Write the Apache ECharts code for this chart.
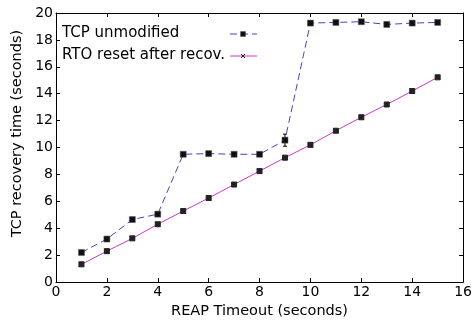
<!DOCTYPE html>
<html><head><meta charset="utf-8">
<script src="https://cdn.jsdelivr.net/npm/echarts@6/dist/echarts.min.js"></script>
<style>html,body{margin:0;padding:0;background:#fff}#c{width:475px;height:324px}</style>
</head><body><div id="c"></div>
<script>
const timeouts = [1,2,3,4,5,6,7,8,9,10,11,12,13,14,15];
const tcpUnmodified = [2.2,3.2,4.65,5.05,9.5,9.55,9.5,9.5,10.55,19.25,19.3,19.35,19.15,19.25,19.3];
const rtoReset = [1.32,2.3,3.25,4.3,5.28,6.25,7.25,8.25,9.25,10.2,11.25,12.25,13.2,14.2,15.22];
const tcpErrLow = [2.2,3.15,4.6,4.95,9.45,9.5,9.45,9.45,10.1,19.2,19.25,19.3,19.1,19.2,19.25];
const tcpErrHigh = [2.25,3.25,4.7,5.15,9.55,9.6,9.55,9.55,11.0,19.3,19.35,19.4,19.2,19.3,19.35];
const xTicks = [0,2,4,6,8,10,12,14,16];
const yTicks = [0,2,4,6,8,10,12,14,16,18,20];
const seriesNames = ['TCP unmodified','RTO reset after recov.'];

const FONT = 'DejaVu Sans';
const blue = '#4642c4';
const mag = '#c838c8';
const xMark = 'path://M0,0L10,10M10,0L0,10M0,0L10,0L10,10L0,10Z';
const chart = echarts.init(document.getElementById('c'), null, {renderer:'canvas'});
const axisCommon = {
  axisLine:{show:true,onZero:false,lineStyle:{color:'#000',width:1}},
  axisTick:{show:true,inside:true,length:4,lineStyle:{color:'#000'}},
  splitLine:{show:false}
};
function legendEntry(y, label, color, dash, markerShape){
  const items = [
    {type:'text',left:62,top:y-8,style:{text:label,font:'15px "DejaVu Sans"',fill:'#000'}},
    {type:'line',shape:{x1:230,y1:y,x2:257,y2:y},style:{stroke:color,lineWidth:1,lineDash:dash}}
  ];
  if(markerShape==='rect'){
    items.push({type:'rect',shape:{x:240.5,y:y-2.5,width:5,height:5},style:{fill:'#111',stroke:'#555',lineWidth:0.5}});
  } else {
    items.push({type:'polyline',shape:{points:[[241,y-2],[245,y+2]]},style:{stroke:'#222',lineWidth:1}});
    items.push({type:'polyline',shape:{points:[[245,y-2],[241,y+2]]},style:{stroke:'#222',lineWidth:1}});
  }
  return items;
}
chart.setOption({
  animation:false,
  textStyle:{fontFamily:FONT},
  grid:{left:56,right:10,top:13,bottom:32,containLabel:false},
  graphic:[].concat(
    legendEntry(34, seriesNames[0], blue, [7,4], 'rect'),
    legendEntry(56, seriesNames[1], mag, null, 'x')
  ),
  xAxis:[
    Object.assign({type:'value',min:0,max:16,interval:2,
      axisLabel:{fontFamily:FONT,fontSize:14,color:'#000',margin:3,
        formatter:v=>xTicks.includes(v)?String(v):''},
      name:'REAP Timeout (seconds)',nameLocation:'middle',nameGap:20,
      nameTextStyle:{fontFamily:FONT,fontSize:14.5,color:'#000'}},axisCommon),
    Object.assign({type:'value',min:0,max:16,interval:2,position:'top',axisLabel:{show:false}},axisCommon)
  ],
  yAxis:[
    Object.assign({type:'value',min:0,max:20,interval:2,
      axisLabel:{fontFamily:FONT,fontSize:14,color:'#000',margin:3,
        formatter:v=>yTicks.includes(v)?String(v):''},
      name:'TCP recovery time (seconds)',nameLocation:'middle',nameGap:31,
      nameTextStyle:{fontFamily:FONT,fontSize:14.5,color:'#000',padding:[0,0,0,28]}},axisCommon),
    Object.assign({type:'value',min:0,max:20,interval:2,position:'right',axisLabel:{show:false}},axisCommon)
  ],
  series:[
    {name:seriesNames[0],type:'line',
      data:timeouts.map((x,i)=>[x,tcpUnmodified[i]]),
      lineStyle:{color:blue,width:1,type:[7,4]},
      symbol:'rect',symbolSize:6,
      itemStyle:{color:'#111',borderColor:'#555',borderWidth:0.5},
      z:3},
    {name:'TCP err',type:'custom',
      data:timeouts.map((x,i)=>[x,tcpErrLow[i],tcpErrHigh[i]]),
      renderItem:function(params,api){
        const x=api.value(0);
        const lo=api.coord([x,api.value(1)]);
        const hi=api.coord([x,api.value(2)]);
        const style={stroke:'#000',lineWidth:1};
        return {type:'group',children:[
          {type:'line',shape:{x1:lo[0],y1:lo[1],x2:hi[0],y2:hi[1]},style},
          {type:'line',shape:{x1:lo[0]-2,y1:lo[1],x2:lo[0]+2,y2:lo[1]},style},
          {type:'line',shape:{x1:hi[0]-2,y1:hi[1],x2:hi[0]+2,y2:hi[1]},style}
        ]};
      },z:2,silent:true},
    {name:seriesNames[1],type:'line',
      data:timeouts.map((x,i)=>[x,rtoReset[i]]),
      lineStyle:{color:mag,width:1},
      symbol:xMark,symbolSize:5,
      itemStyle:{color:'#222',borderColor:'#222',borderWidth:1},
      z:3}
  ]
});
</script></body></html>
